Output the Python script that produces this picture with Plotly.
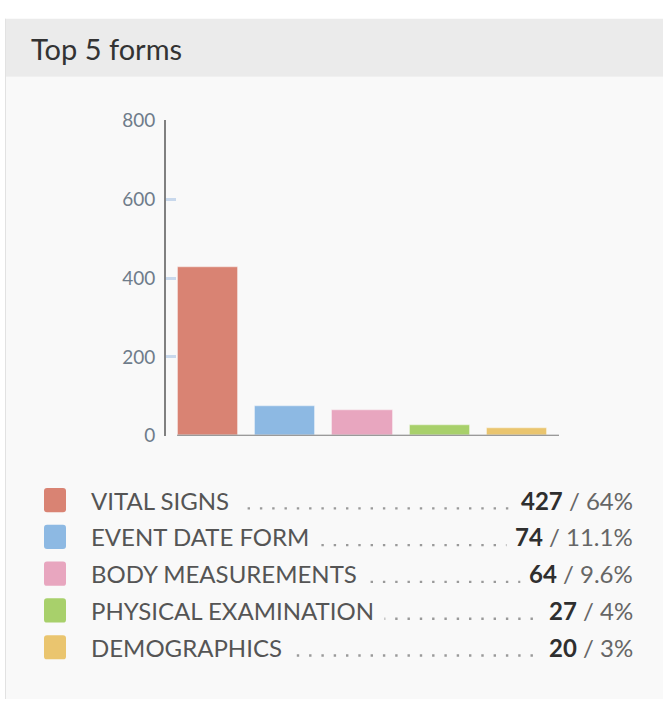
import plotly.graph_objects as go

# Top forms by submission count
forms = ["VITAL SIGNS", "EVENT DATE FORM", "BODY MEASUREMENTS",
         "PHYSICAL EXAMINATION", "DEMOGRAPHICS"]
counts = [427, 74, 64, 27, 20]
shares = ["64%", "11.1%", "9.6%", "4%", "3%"]
colors = ["#d98373", "#8db9e3", "#e8a6bf", "#a8d06b", "#eac56f"]
y_ticks = [0, 200, 400, 600, 800]

W, H = 663, 710
FONT = "Lato"


def px(x):
    return x / W


def py(y):
    return 1 - y / H


fig = go.Figure()
fig.add_trace(go.Bar(
    x=list(range(len(forms))), y=counts,
    marker=dict(color=colors, line=dict(color="rgba(255,255,255,0.35)", width=1)),
    width=0.78, hoverinfo="skip", showlegend=False,
))

shapes = [
    # card body and header band
    dict(type="rect", xref="paper", yref="paper", x0=px(5), x1=1, y0=0, y1=py(67),
         fillcolor="#f9f9f9", line=dict(width=0), layer="below"),
    dict(type="rect", xref="paper", yref="paper", x0=px(5), x1=1, y0=py(67), y1=py(7),
         fillcolor="#ebebeb", line=dict(width=0), layer="below"),
    dict(type="line", xref="paper", yref="paper", x0=px(5.5), x1=px(5.5), y0=0, y1=py(7),
         line=dict(color="#e2e2e2", width=1), layer="below"),
    # baseline of the bar chart
    dict(type="line", xref="x", yref="y", x0=-0.4, x1=4.544, y0=0, y1=0,
         line=dict(color="#7a7a7a", width=2)),
]

annotations = [
    dict(text="Top 5 forms", x=px(29), y=py(38), xref="paper", yref="paper",
         xanchor="left", yanchor="middle", showarrow=False,
         font=dict(family=FONT, size=29, color="#333333")),
]

LABEL_PAD, VALUE_PAD = 10, 8
row0, pitch = 504.5, 38
for i, (name, n, pct, c) in enumerate(zip(forms, counts, shares, colors)):
    yc = row0 + i * pitch
    # rounded colour swatch
    x0, x1, y0, y1, r = px(44), px(66), py(yc - 12.5), py(yc + 12.5), 3
    rx, ry = r / W, r / H
    path = (f"M {x0+rx},{y0} L {x1-rx},{y0} Q {x1},{y0} {x1},{y0-ry} "
            f"L {x1},{y1+ry} Q {x1},{y1} {x1-rx},{y1} L {x0+rx},{y1} "
            f"Q {x0},{y1} {x0},{y1+ry} L {x0},{y0-ry} Q {x0},{y0} {x0+rx},{y0} Z")
    shapes.append(dict(type="path", xref="paper", yref="paper", path=path,
                       fillcolor=c, line=dict(width=0)))
    # dotted leader between name and value (names and values sit on top of it)
    shapes.append(dict(type="line", xref="paper", yref="paper",
                       x0=px(100), x1=px(628), y0=py(yc + 8.5), y1=py(yc + 8.5),
                       line=dict(color="#9a9a9a", width=2.4, dash="2.4px,9.9px")))
    annotations.append(dict(
        text=name, x=px(91 - LABEL_PAD - 1), y=py(yc), xref="paper", yref="paper",
        xanchor="left", yanchor="middle", showarrow=False,
        bgcolor="#f9f9f9", borderpad=LABEL_PAD,
        font=dict(family=FONT, size=24, color="#555555")))
    annotations.append(dict(
        text=f'<span style="color:#2f2f2f"><b>{n}</b></span> / {pct}',
        x=px(633 + VALUE_PAD + 1), y=py(yc), xref="paper", yref="paper",
        xanchor="right", yanchor="middle", showarrow=False,
        bgcolor="#f9f9f9", borderpad=VALUE_PAD,
        font=dict(family=FONT, size=24, color="#666666")))

fig.update_layout(
    width=W, height=H,
    margin=dict(l=0, r=0, t=0, b=0),
    paper_bgcolor="#ffffff",
    plot_bgcolor="rgba(0,0,0,0)",
    font=dict(family=FONT),
    bargap=0,
    xaxis=dict(domain=[px(166), px(559)], range=[-0.544, 4.544],
               showline=False, showgrid=False, zeroline=False,
               showticklabels=False, ticks="", fixedrange=True),
    yaxis=dict(domain=[py(438), py(112)], range=[0, 800],
               tickvals=y_ticks, ticktext=[str(v) for v in y_ticks],
               showline=True, linecolor="#808080", linewidth=2,
               ticks="inside", ticklen=10, tickwidth=3, tickcolor="#c8d8ec",
               showgrid=False, zeroline=False, ticklabelstandoff=5,
               tickfont=dict(family=FONT, size=19, color="#6f7c8a"),
               fixedrange=True),
    shapes=shapes,
    annotations=annotations,
)

fig.write_html("out.html")
